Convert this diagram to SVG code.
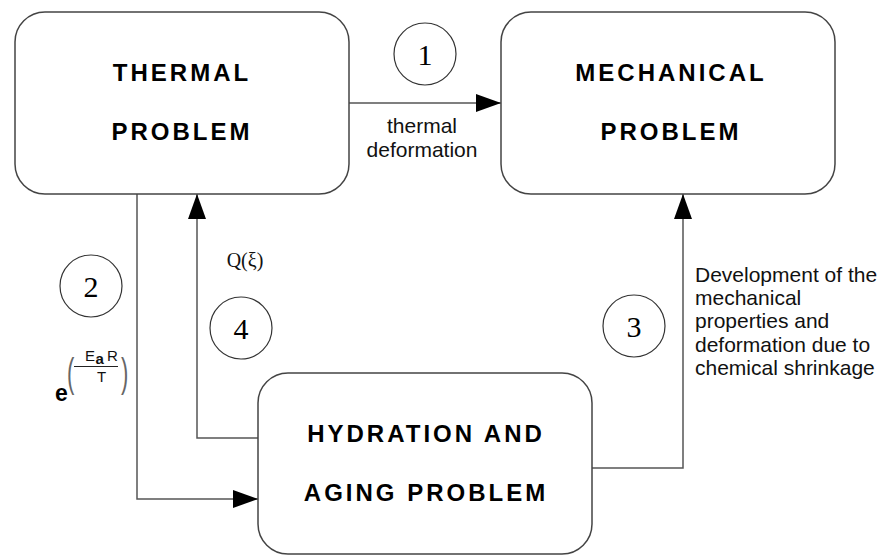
<svg xmlns="http://www.w3.org/2000/svg" width="881" height="556" viewBox="0 0 881 556">
<style>
.box{fill:#fff;stroke:#444;stroke-width:1.5}
.lbl{font-family:"Liberation Sans",Arial,sans-serif;font-weight:bold;font-size:24px;letter-spacing:3px;fill:#000;text-anchor:middle}
.conn{fill:none;stroke:#555;stroke-width:1.5}
.circ{fill:#fff;stroke:#333;stroke-width:1.2}
.num{font-family:"Liberation Serif","Times New Roman",serif;font-size:30px;fill:#000;text-anchor:middle}
.txt{font-family:"Liberation Sans",Arial,sans-serif;font-size:21px;fill:#111}
.frm{font-family:"Liberation Sans",Arial,sans-serif;font-size:15px;fill:#111}
.par{font-family:"Liberation Sans",Arial,sans-serif;font-size:40px;fill:#666}
</style>
<defs>
<marker id="ah" markerUnits="userSpaceOnUse" markerWidth="25" markerHeight="18" refX="25" refY="9" orient="auto">
<path d="M0,0 L25,9 L0,18 Z" fill="#000"/>
</marker>
</defs>
<rect width="881" height="556" fill="#fff"/>
<g id="connectors">
<line class="conn" x1="349" y1="103" x2="501" y2="103" marker-end="url(#ah)"/>
<polyline class="conn" points="137,194 137,499 258,499" marker-end="url(#ah)"/>
<polyline class="conn" points="258,438 197,438 197,194" marker-end="url(#ah)"/>
<polyline class="conn" points="592,468 683,468 683,194" marker-end="url(#ah)"/>
</g>
<g id="thermal">
<rect class="box" x="15" y="12" width="334" height="182" rx="30" ry="30"/>
<text class="lbl" x="182" y="81">THERMAL</text>
<text class="lbl" x="182" y="140">PROBLEM</text>
</g>
<g id="mechanical">
<rect class="box" x="501" y="12" width="334" height="182" rx="30" ry="30"/>
<text class="lbl" x="671" y="81">MECHANICAL</text>
<text class="lbl" x="671" y="140">PROBLEM</text>
</g>
<g id="hydration">
<rect class="box" x="258" y="373" width="334" height="181" rx="30" ry="30"/>
<text class="lbl" x="426" y="442">HYDRATION AND</text>
<text class="lbl" x="426" y="501">AGING PROBLEM</text>
</g>
<g id="label1">
<circle class="circ" cx="425" cy="54" r="31"/>
<text class="num" x="425" y="65">1</text>
<text class="txt" x="422" y="133" text-anchor="middle">thermal</text>
<text class="txt" x="422" y="157" text-anchor="middle">deformation</text>
</g>
<g id="label2">
<circle class="circ" cx="91" cy="286" r="31"/>
<text class="num" x="91" y="297">2</text>
<text x="55" y="401" font-family="Liberation Sans,Arial,sans-serif" font-weight="bold" font-size="23">e</text>
<text class="par" transform="translate(67 387) scale(0.55 1)" x="0" y="0">(</text>
<text class="par" transform="translate(121 387) scale(0.55 1)" x="0" y="0">)</text>
<text class="frm" x="85" y="361">E</text>
<text class="frm" x="95.5" y="364" font-size="14" font-weight="bold">a</text>
<text class="frm" x="107" y="361">R</text>
<line x1="74" y1="366.5" x2="118" y2="366.5" stroke="#222" stroke-width="1"/>
<text class="frm" x="97" y="382">T</text>
</g>
<g id="label3">
<circle class="circ" cx="634" cy="326" r="31"/>
<text class="num" x="634" y="337">3</text>
<text class="txt" x="695" y="282">Development of the</text>
<text class="txt" x="695" y="305">mechanical</text>
<text class="txt" x="695" y="328">properties and</text>
<text class="txt" x="695" y="352">deformation due to</text>
<text class="txt" x="695" y="375">chemical shrinkage</text>
</g>
<g id="label4">
<circle class="circ" cx="241" cy="328" r="31"/>
<text class="num" x="241" y="339">4</text>
<text x="245" y="267" text-anchor="middle" font-family="Liberation Serif,serif" font-size="20" fill="#111">Q(ξ)</text>
</g>
</svg>
